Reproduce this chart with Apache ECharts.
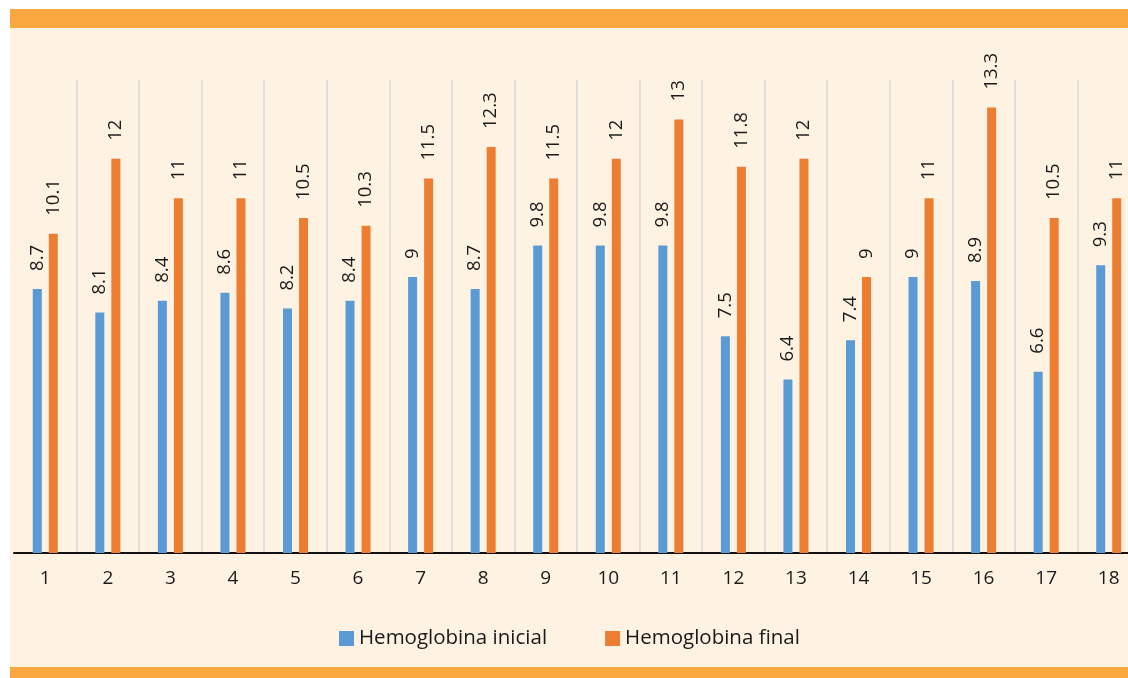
<!DOCTYPE html>
<html><head><meta charset="utf-8">
<script src="https://cdn.jsdelivr.net/npm/echarts@6/dist/echarts.min.js"></script>
<style>html,body{margin:0;padding:0;background:#fff}#c{width:1128px;height:678px}</style>
</head><body><div id="c"></div>
<script>
const categories = ['1','2','3','4','5','6','7','8','9','10','11','12','13','14','15','16','17','18'];
const hbInicial = [8.7,8.1,8.4,8.6,8.2,8.4,9,8.7,9.8,9.8,9.8,7.5,6.4,7.4,9,8.9,6.6,9.3];
const hbFinal = [10.1,12,11,11,10.5,10.3,11.5,12.3,11.5,12,13,11.8,12,9,11,13.3,10.5,11];
const seriesNames = ['Hemoglobina inicial','Hemoglobina final'];

const chart = echarts.init(document.getElementById('c'));
const font = '"Open Sans", sans-serif';
const label = {show:true, position:'top', rotate:90, align:'left', verticalAlign:'middle', distance:18, color:'#1a1a1a', fontSize:18.5, fontFamily:font};
chart.setOption({
  backgroundColor:'#ffffff',
  animation:false,
  graphic:[
    {type:'rect', z:-10, shape:{x:10,y:9,width:1118,height:19}, style:{fill:'#F8A83F'}},
    {type:'rect', z:-10, shape:{x:10,y:28,width:1118,height:639}, style:{fill:'#FEF2E2'}},
    {type:'rect', z:-10, shape:{x:10,y:667,width:1118,height:11}, style:{fill:'#F8A83F'}}
  ],
  legend:{
    data:seriesNames, bottom:24, left:334, itemWidth:15, itemHeight:15, itemGap:58,
    icon:'rect', textStyle:{fontSize:20.5, color:'#1a1a1a', fontFamily:font}
  },
  grid:{left:14, width:1126, top:80, bottom:125, outerBoundsMode:'none', containLabel:false},
  xAxis:{
    type:'category', data:categories, boundaryGap:true,
    axisLine:{show:true, lineStyle:{color:'#111', width:2}},
    axisTick:{show:false},
    axisLabel:{fontSize:19, color:'#1a1a1a', fontFamily:font, margin:16},
    splitLine:{show:true, showMinLine:false, lineStyle:{color:'#d9d9d9', width:1.5}}
  },
  yAxis:{type:'value', min:2, max:14, show:false, splitLine:{show:false}},
  series:[
    {name:seriesNames[0], type:'bar', data:hbInicial, barWidth:9, barGap:'78%', itemStyle:{color:'#5B9BD5'}, label:label},
    {name:seriesNames[1], type:'bar', data:hbFinal, barWidth:9, barGap:'78%', itemStyle:{color:'#ED7D31'}, label:label}
  ]
});
</script></body></html>
